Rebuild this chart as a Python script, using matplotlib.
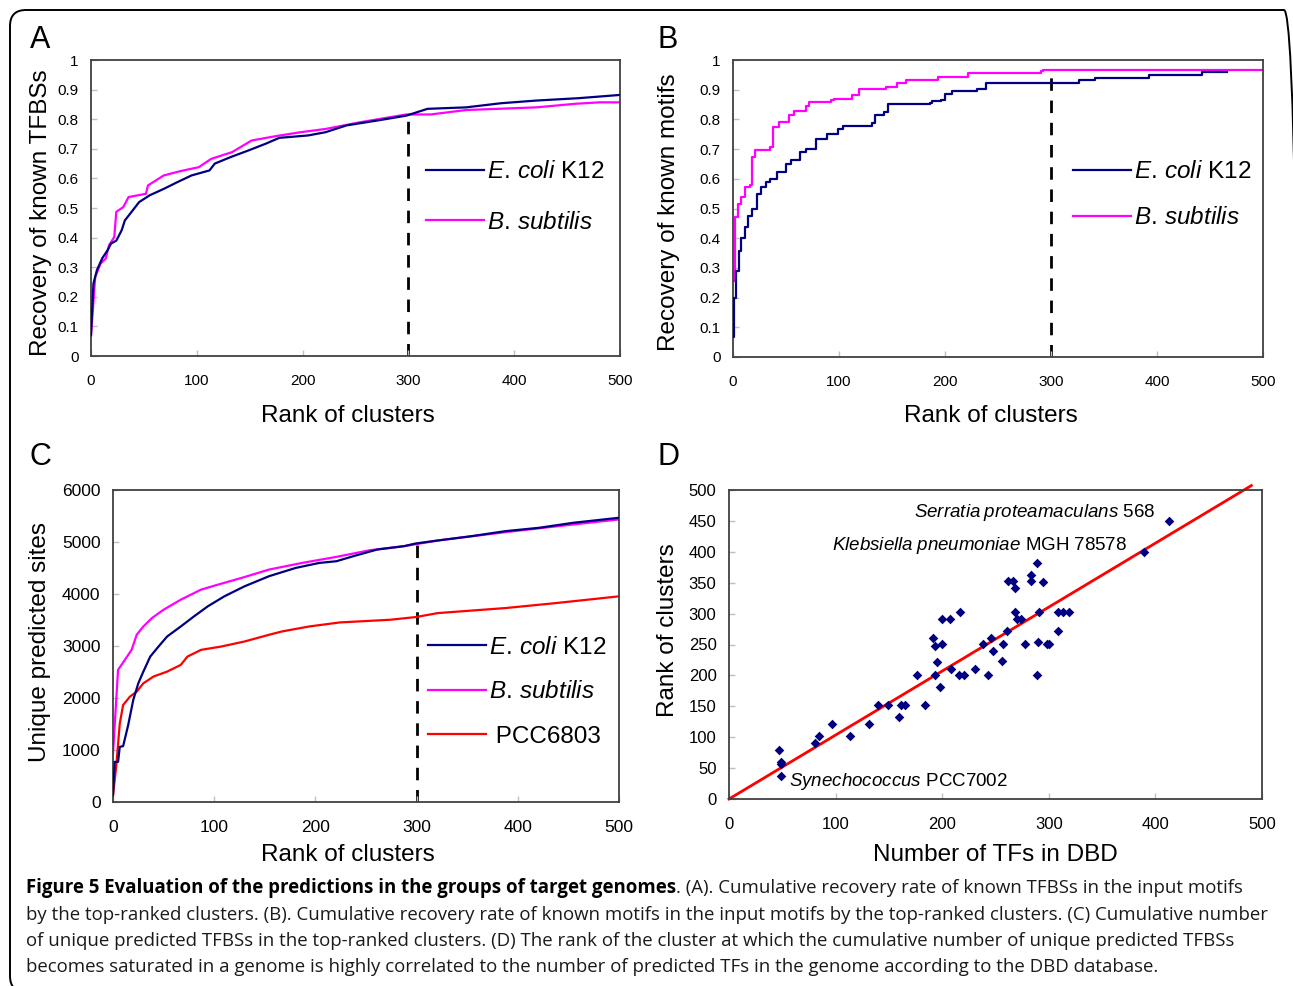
import numpy as np
import matplotlib
matplotlib.use("Agg")
import matplotlib.pyplot as plt
from matplotlib import font_manager
from matplotlib.patches import FancyBboxPatch
from matplotlib.transforms import IdentityTransform

plt.rcParams['font.family'] = ['Liberation Sans', 'DejaVu Sans']
plt.rcParams['mathtext.fontset'] = 'custom'
plt.rcParams['mathtext.rm'] = 'Liberation Sans'
plt.rcParams['mathtext.it'] = 'Liberation Sans:italic'

try:
    font_manager.findfont('Liberation Sans Narrow', fallback_to_default=False)
    CAP_FONT = ['Liberation Sans Narrow', 'DejaVu Sans']
except Exception:
    CAP_FONT = ['Open Sans', 'DejaVu Sans']

"""### Data"""

# A: recovery of known TFBSs
a_ecoli_x = [0, 2.3, 5.6, 10.6, 15.6, 19, 24, 29, 32, 39, 45.5, 55.5, 69, 82, 95, 112, 117, 132,
             148.5, 165, 178, 205, 221.6, 241.5, 271.4, 298, 318, 354.5, 387.7, 421, 460.8, 500]
a_ecoli_y = [0.07, 0.245, 0.29, 0.33, 0.357, 0.38, 0.39, 0.425, 0.458, 0.49, 0.52, 0.543, 0.565,
             0.588, 0.61, 0.627, 0.65, 0.672, 0.694, 0.717, 0.737, 0.745, 0.756, 0.779, 0.796,
             0.812, 0.835, 0.84, 0.854, 0.863, 0.871, 0.882]
a_bsub_x = [0, 4, 9, 14, 17, 22, 23.9, 30.5, 35.5, 52, 53.8, 68.8, 85, 102, 113.6, 133.5, 151.8,
            175, 198, 221.6, 254.8, 298, 321, 354.5, 421, 457.5, 480.7, 500]
a_bsub_y = [0.07, 0.267, 0.312, 0.33, 0.374, 0.402, 0.487, 0.503, 0.537, 0.548, 0.576, 0.61,
            0.625, 0.638, 0.666, 0.689, 0.728, 0.743, 0.756, 0.767, 0.79, 0.816, 0.816, 0.831,
            0.84, 0.852, 0.857, 0.857]

# B: recovery of known motifs (step curves)
b_ecoli_x = [0, 1, 2.7, 6, 7.8, 11, 14.5, 18, 23, 26, 31, 35, 41.5, 50, 55, 63, 68.4, 78.5, 88.7,
             98.8, 104, 120.7, 131, 134, 142.6, 146, 186, 188, 196.6, 200, 206.7, 230, 238.7,
             324.7, 326, 341.5, 392, 442.7, 466]
b_ecoli_y = [0.068, 0.2, 0.29, 0.358, 0.4, 0.437, 0.476, 0.5, 0.55, 0.572, 0.589, 0.6, 0.623,
             0.65, 0.662, 0.69, 0.70, 0.735, 0.752, 0.769, 0.777, 0.777, 0.788, 0.814, 0.825,
             0.851, 0.854, 0.862, 0.865, 0.887, 0.896, 0.902, 0.923, 0.923, 0.932, 0.941, 0.95,
             0.958, 0.96]
b_bsub_x = [0, 1.7, 4.4, 7.8, 11, 16, 18, 21, 34.7, 37.4, 43, 53, 58, 68.4, 71.8, 92, 95, 112,
            119, 144, 154.4, 163, 193, 221.8, 291, 292.6, 500]
b_bsub_y = [0.257, 0.47, 0.516, 0.538, 0.572, 0.578, 0.673, 0.696, 0.707, 0.775, 0.792, 0.814,
            0.828, 0.845, 0.859, 0.867, 0.87, 0.882, 0.903, 0.91, 0.921, 0.932, 0.944, 0.957,
            0.964, 0.968, 0.968]

# C: unique predicted sites
c_ecoli_x = [0, 1.7, 5, 6.7, 10, 15, 20, 25, 30, 36.8, 45, 53.5, 67, 80, 93.6, 110, 130, 154,
             180.6, 204, 220.7, 237.5, 261, 287.6, 299, 321, 354.5, 388, 421, 455, 500]
c_ecoli_y = [130, 772, 772, 1061, 1074, 1479, 1961, 2283, 2508, 2797, 2990, 3183, 3376, 3569,
             3762, 3955, 4148, 4341, 4502, 4598, 4630, 4727, 4855, 4920, 4971, 5029, 5113, 5209,
             5273, 5370, 5466]
c_bsub_x = [0, 5, 11.7, 18.4, 23.4, 30, 38.5, 50, 67, 87, 103.7, 127, 154, 187, 220.7, 254,
            287.6, 321, 388, 455, 500]
c_bsub_y = [932, 2540, 2733, 2926, 3215, 3376, 3537, 3698, 3891, 4084, 4180, 4309, 4469, 4598,
            4714, 4842, 4920, 5029, 5190, 5338, 5434]
c_pcc_x = [0, 3.3, 6.7, 10, 16.7, 23.4, 30, 40, 53.5, 67, 73.6, 87, 107, 130, 154, 167, 194,
           224, 274, 299, 321, 388, 438, 500]
c_pcc_y = [129, 707, 1511, 1865, 2026, 2122, 2283, 2412, 2508, 2637, 2797, 2926, 2990, 3087,
           3215, 3280, 3376, 3453, 3505, 3556, 3633, 3730, 3826, 3955]

# D: number of TFs vs saturation rank
d_tfs = [47, 49, 49, 48.5, 81, 84, 97, 113.5, 131, 140, 149.5, 159.5, 161.5, 165.5, 176, 184,
         191, 193, 199.5, 195.5, 193, 198, 200, 207, 217, 208.5, 215.5, 220, 230.5, 238, 242.5,
         245.5, 248, 256, 257, 261, 262, 266, 268.5, 268.5, 270, 274, 277.5, 283.5, 283.5,
         288.5, 288.5, 289.5, 291, 295, 298.5, 300, 308.5, 309, 313, 319, 389.5, 412.5]
d_rank = [80, 60, 56, 37, 91, 102, 121, 102, 121, 152, 152, 132, 152, 152, 201, 152, 261, 248,
          251, 222, 201, 182, 292, 292, 303, 211, 201, 201, 211, 251, 201, 261, 239, 224, 251,
          272, 353, 353, 341, 303, 292, 292, 251, 363, 352, 382, 201, 254, 303, 351, 251, 251,
          272, 303, 303, 303, 400, 450]
trend_x = [0, 490]
trend_slope = 1.035

labels_ab = ['0', '0.1', '0.2', '0.3', '0.4', '0.5', '0.6', '0.7', '0.8', '0.9', '1']
rank_ticks = [0, 100, 200, 300, 400, 500]
c_yticks = [0, 1000, 2000, 3000, 4000, 5000, 6000]
d_yticks = [0, 50, 100, 150, 200, 250, 300, 350, 400, 450, 500]
cutoff = 300

NAVY = '#000080'
MAGENTA = '#ff00ff'
RED = '#ff0000'
lbl_ecoli = r'$\mathit{E.\,coli}$ K12'
lbl_bsub = r'$\mathit{B.\,subtilis}$'

"""### Figure"""

W, H = 1293, 986
fig = plt.figure(figsize=(W / 100, H / 100), dpi=100)


def px_axes(left, top, right, bottom):
    return fig.add_axes([left / W, 1 - bottom / H, (right - left) / W, (bottom - top) / H])


def style_axes(ax, fs):
    for s in ax.spines.values():
        s.set_color('#404040')
        s.set_linewidth(1.3)
    ax.tick_params(direction='in', length=4, width=1, color='#c0c0c0', labelsize=fs,
                   labelcolor='black', pad=9)
    ax.tick_params(axis='x', pad=13)


def dashed_cut(ax, top):
    ax.plot([cutoff, cutoff], [0, top], color='black', lw=2, dashes=(4.5, 3.5), zorder=1)


def place_labels(ax, xl, yl, w, h, xlab_cx, xlab_cy, ylab_cx, ylab_cy):
    # label centres given in pixels relative to the axes' lower-left corner
    ax.set_xlabel(xl, fontsize=17.5)
    ax.xaxis.set_label_coords(xlab_cx / w, xlab_cy / h)
    ax.xaxis.label.set_va('center')
    ax.set_ylabel(yl, fontsize=17.5)
    ax.yaxis.set_label_coords(ylab_cx / w, ylab_cy / h)
    ax.yaxis.label.set_va('center')


axA = px_axes(91, 60, 620, 356)
axB = px_axes(733, 60, 1263, 357)
axC = px_axes(113, 490, 619, 802)
axD = px_axes(729, 490, 1262, 799)

leg_kw = dict(loc='center left', frameon=False, fontsize=17.5, handlelength=2.4,
              handletextpad=0.1, borderpad=0, borderaxespad=0)

# panel A
axA.plot(a_ecoli_x, a_ecoli_y, color=NAVY, lw=1.6, label=lbl_ecoli, zorder=3)
axA.plot(a_bsub_x, a_bsub_y, color=MAGENTA, lw=1.6, label=lbl_bsub, zorder=2)
dashed_cut(axA, np.interp(cutoff, a_ecoli_x, a_ecoli_y))
axA.legend(bbox_to_anchor=(0.633, 0.535), labelspacing=1.17, **leg_kw)

# panel B
axB.plot(b_ecoli_x, b_ecoli_y, color=NAVY, lw=1.6, drawstyle='steps-post', label=lbl_ecoli,
         zorder=3)
axB.plot(b_bsub_x, b_bsub_y, color=MAGENTA, lw=1.6, drawstyle='steps-post', label=lbl_bsub,
         zorder=2)
dashed_cut(axB, np.interp(cutoff, b_bsub_x, b_bsub_y))
axB.legend(bbox_to_anchor=(0.6415, 0.545), labelspacing=0.98, **leg_kw)

for ax in (axA, axB):
    ax.set_xlim(0, 500)
    ax.set_ylim(0, 1)
    ax.set_xticks(rank_ticks)
    ax.set_yticks(np.linspace(0, 1, len(labels_ab)))
    ax.set_yticklabels(labels_ab)
    style_axes(ax, 11)
place_labels(axA, 'Rank of clusters', 'Recovery of known TFBSs', 529, 296,
             257, -60, -50, 143.5)
place_labels(axB, 'Rank of clusters', 'Recovery of known motifs', 530, 297,
             258, -59, -64, 145)

# panel C
axC.plot(c_ecoli_x, c_ecoli_y, color=NAVY, lw=1.6, label=lbl_ecoli, zorder=3)
axC.plot(c_bsub_x, c_bsub_y, color=MAGENTA, lw=1.6, label=lbl_bsub, zorder=2)
axC.plot(c_pcc_x, c_pcc_y, color=RED, lw=1.6, label=' PCC6803', zorder=2)
dashed_cut(axC, np.interp(cutoff, c_ecoli_x, c_ecoli_y))
axC.legend(bbox_to_anchor=(0.6225, 0.352), labelspacing=0.92, **leg_kw)
axC.set_xlim(0, 500)
axC.set_ylim(0, 6000)
axC.set_xticks(rank_ticks)
axC.set_yticks(c_yticks)
style_axes(axC, 12.5)
place_labels(axC, 'Rank of clusters', 'Unique predicted sites', 506, 312,
             235, -53, -73, 159.5)

# panel D
axD.scatter(d_tfs, d_rank, marker='D', s=24, color=NAVY, zorder=3, linewidths=0)
tx = np.array(trend_x)
axD.plot(tx, trend_slope * tx, color=RED, lw=2, zorder=2, clip_on=False)
axD.text(399.6, 462.8, r'$\mathit{Serratia\;proteamaculans}$ 568', fontsize=13.5,
         ha='right', va='center')
axD.text(96.6, 411, r'$\mathit{Klebsiella\;pneumoniae}$ MGH 78578', fontsize=13.5,
         ha='left', va='center')
axD.text(56.3, 29, r'$\mathit{Synechococcus}$ PCC7002', fontsize=13.5, ha='left', va='center')
axD.set_xlim(0, 500)
axD.set_ylim(0, 500)
axD.set_xticks(rank_ticks)
axD.set_yticks(d_yticks)
style_axes(axD, 12)
place_labels(axD, 'Number of TFs in DBD', 'Rank of clusters', 533, 309,
             266, -56, -61, 169)

# panel letters
for letter, x, y in [('A', 40, 40), ('B', 668, 40), ('C', 40, 457), ('D', 668, 457)]:
    fig.text(x / W, 1 - y / H, letter, fontsize=22, ha='center', va='center')

# caption
cap_bold = 'Figure 5 Evaluation of the predictions in the groups of target genomes'
cap_lines = [
    '. (A). Cumulative recovery rate of known TFBSs in the input motifs',
    'by the top-ranked clusters. (B). Cumulative recovery rate of known motifs in the input motifs by the top-ranked clusters. (C) Cumulative number',
    'of unique predicted TFBSs in the top-ranked clusters. (D) The rank of the cluster at which the cumulative number of unique predicted TFBSs',
    'becomes saturated in a genome is highly correlated to the number of predicted TFs in the genome according to the DBD database.',
]
cap_x = 26 / W
cap_y = [888, 914.5, 941, 967.5]
renderer = fig.canvas.get_renderer()
tb = fig.text(cap_x, 1 - cap_y[0] / H, cap_bold, fontsize=13.45, fontweight='bold',
              family=CAP_FONT, va='center')
bb = tb.get_window_extent(renderer)
fig.text(bb.x1 / W, 1 - cap_y[0] / H, cap_lines[0], fontsize=13.45, family=CAP_FONT,
         va='center', color='#1a1a1a')
for line, y in zip(cap_lines[1:], cap_y[1:]):
    fig.text(cap_x, 1 - y / H, line, fontsize=13.45, family=CAP_FONT, va='center',
             color='#1a1a1a')

# rounded frame around the whole figure
frame = FancyBboxPatch((10, -6), 1290, H - 4, boxstyle='round,pad=0,rounding_size=16',
                       transform=IdentityTransform(), fill=False, ec='black', lw=1.4)
fig.patches.append(frame)

fig.savefig('out.png', dpi=100)
